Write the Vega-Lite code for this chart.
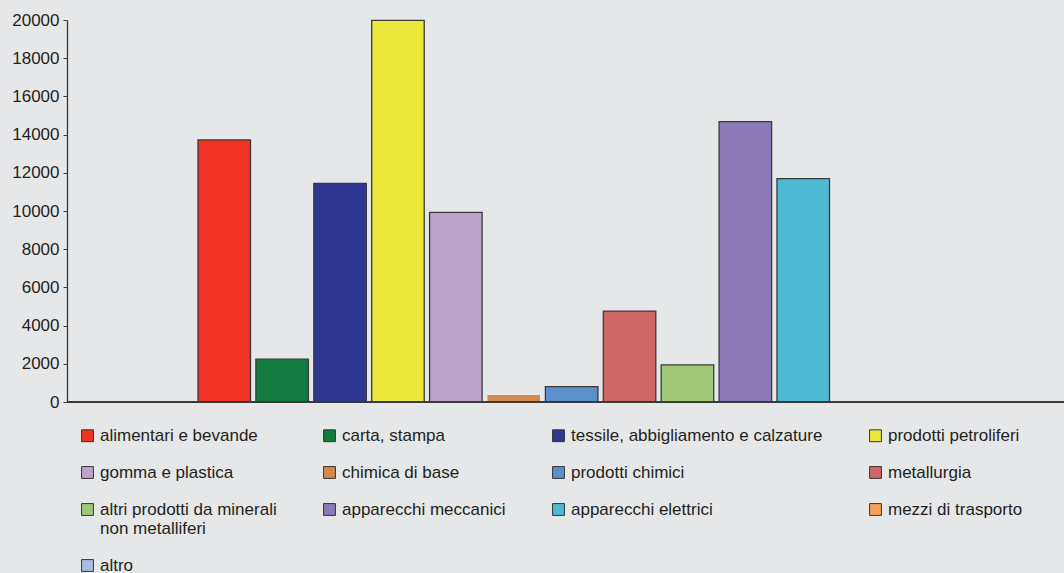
{
  "$schema": "https://vega.github.io/schema/vega-lite/v6.json",
  "autosize": {"type": "none"},
  "padding": {"left": 67, "top": 20, "right": 0, "bottom": 171},
  "width": 997,
  "height": 382,
  "background": "#e6e7e8",
  "config": {
    "view": {"stroke": null},
    "font": "Liberation Sans",
    "axis": {"labelFont": "Liberation Sans", "labelColor": "#231f20", "domainColor": "#3a3a3a", "tickColor": "#3a3a3a"},
    "axisY": {
      "title": null,
      "grid": false,
      "values": [0, 2000, 4000, 6000, 8000, 10000, 12000, 14000, 16000, 18000, 20000],
      "format": "d",
      "labelFontSize": 17,
      "labelPadding": 4,
      "labelOverlap": false,
      "labelBound": false,
      "tickSize": 4,
      "domainWidth": 1.3
    }
  },
  "data": {
    "values": [
      {"settore": "alimentari e bevande", "valore": 13720},
      {"settore": "carta, stampa", "valore": 2240},
      {"settore": "tessile, abbigliamento e calzature", "valore": 11450},
      {"settore": "prodotti petroliferi", "valore": 19980},
      {"settore": "gomma e plastica", "valore": 9930},
      {"settore": "chimica di base", "valore": 370},
      {"settore": "prodotti chimici", "valore": 800},
      {"settore": "metallurgia", "valore": 4760},
      {"settore": "altri prodotti da minerali non metalliferi", "valore": 1940},
      {"settore": "apparecchi meccanici", "valore": 14680},
      {"settore": "apparecchi elettrici", "valore": 11690},
      {"settore": "mezzi di trasporto", "valore": 0},
      {"settore": "altro", "valore": 0}
    ]
  },
  "layer": [
    {
      "mark": {"type": "bar", "strokeWidth": 1.3},
      "encoding": {
        "x": {
          "field": "settore",
          "type": "nominal",
          "sort": null,
          "scale": {"range": [131, 878.3], "paddingInner": 0.093, "paddingOuter": 0},
          "axis": null
        },
        "y": {
          "field": "valore",
          "type": "quantitative",
          "title": null,
          "scale": {"domain": [0, 20000], "nice": false}
        },
        "fill": {
          "field": "settore",
          "type": "nominal",
          "scale": {
            "domain": ["alimentari e bevande", "carta, stampa", "tessile, abbigliamento e calzature", "prodotti petroliferi", "gomma e plastica", "chimica di base", "prodotti chimici", "metallurgia", "altri prodotti da minerali non metalliferi", "apparecchi meccanici", "apparecchi elettrici", "mezzi di trasporto", "altro"],
            "range": ["#ee3224", "#117a3e", "#2e3892", "#ebe83a", "#bca3cc", "#d4894f", "#5b90cb", "#cd6866", "#a0c878", "#8c79b7", "#4ebad3", "#f9a05a", "#a8bde0"]
          },
          "legend": {
            "title": null,
            "orient": "none",
            "direction": "horizontal",
            "legendX": 12,
            "legendY": 407,
            "padding": 0,
            "columns": 4,
            "gridAlign": "each",
            "columnPadding": 44,
            "rowPadding": 19,
            "symbolType": "square",
            "symbolSize": 140,
            "symbolStrokeColor": "#333333",
            "symbolStrokeWidth": 1,
            "symbolOpacity": 1,
            "labelFont": "Liberation Sans",
            "labelFontSize": 17,
            "labelColor": "#231f20",
            "labelOffset": 4,
            "labelLimit": 400,
            "labelBaseline": "top",
            "labelExpr": "datum.label == 'altri prodotti da minerali non metalliferi' ? ['altri prodotti da minerali', 'non metalliferi'] : datum.label",
            "encode": {"labels": {"update": {"dy": {"value": -8}, "lineHeight": {"value": 19}}}}
          }
        },
        "stroke": {
          "condition": {"test": "datum.valore == 0 || datum.settore == 'chimica di base'", "value": null},
          "value": "#3a3a3a"
        }
      }
    },
    {
      "mark": {"type": "rule", "color": "#3a3a3a", "strokeWidth": 1.3},
      "encoding": {"y": {"datum": 0, "type": "quantitative", "title": null}}
    }
  ]
}
